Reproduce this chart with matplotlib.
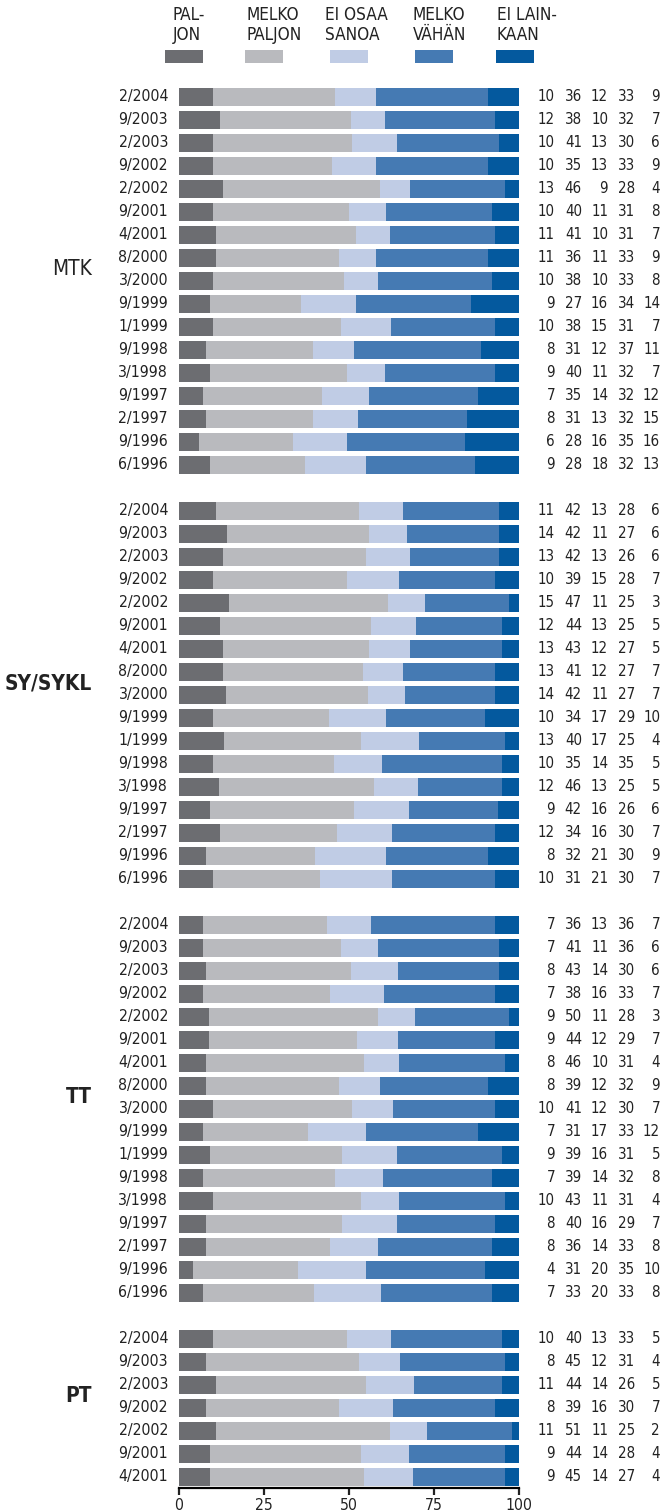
import numpy as np
import matplotlib
matplotlib.use("Agg")
import matplotlib.pyplot as plt
from matplotlib.patches import Rectangle
from matplotlib import font_manager

# pick a narrow face if one is installed
fonts = font_manager.fontManager.ttflist
names = {f.name for f in fonts}
stretch = 'normal'
if 'Liberation Sans Narrow' in names:
    family = 'Liberation Sans Narrow'
    scale = 1.0
elif any(f.name == 'DejaVu Sans' and f.stretch in ('condensed', 'semi-condensed') for f in fonts):
    family = 'DejaVu Sans'
    stretch = 'condensed'
    scale = 1.03
else:
    family = 'Liberation Sans'
    scale = 0.92
plt.rcParams['font.family'] = [family, 'DejaVu Sans']
plt.rcParams['font.stretch'] = stretch

# answer categories (legend) and their colours
categories = ["PAL-\nJON", "MELKO\nPALJON", "EI OSAA\nSANOA", "MELKO\nVÄHÄN", "EI LAIN-\nKAAN"]
colors = ["#6c6d71", "#b9babe", "#c0cce5", "#457ab3", "#04599e"]

periods = ["2/2004", "9/2003", "2/2003", "9/2002", "2/2002", "9/2001", "4/2001",
           "8/2000", "3/2000", "9/1999", "1/1999", "9/1998", "3/1998", "9/1997",
           "2/1997", "9/1996", "6/1996"]
periods_pt = ["2/2004", "9/2003", "2/2003", "9/2002", "2/2002", "9/2001", "4/2001"]

groups = ["MTK", "SY/SYKL", "TT", "PT"]

vals_mtk = [[10, 36, 12, 33, 9], [12, 38, 10, 32, 7], [10, 41, 13, 30, 6],
            [10, 35, 13, 33, 9], [13, 46, 9, 28, 4], [10, 40, 11, 31, 8],
            [11, 41, 10, 31, 7], [11, 36, 11, 33, 9], [10, 38, 10, 33, 8],
            [9, 27, 16, 34, 14], [10, 38, 15, 31, 7], [8, 31, 12, 37, 11],
            [9, 40, 11, 32, 7], [7, 35, 14, 32, 12], [8, 31, 13, 32, 15],
            [6, 28, 16, 35, 16], [9, 28, 18, 32, 13]]

vals_sy = [[11, 42, 13, 28, 6], [14, 42, 11, 27, 6], [13, 42, 13, 26, 6],
           [10, 39, 15, 28, 7], [15, 47, 11, 25, 3], [12, 44, 13, 25, 5],
           [13, 43, 12, 27, 5], [13, 41, 12, 27, 7], [14, 42, 11, 27, 7],
           [10, 34, 17, 29, 10], [13, 40, 17, 25, 4], [10, 35, 14, 35, 5],
           [12, 46, 13, 25, 5], [9, 42, 16, 26, 6], [12, 34, 16, 30, 7],
           [8, 32, 21, 30, 9], [10, 31, 21, 30, 7]]

vals_tt = [[7, 36, 13, 36, 7], [7, 41, 11, 36, 6], [8, 43, 14, 30, 6],
           [7, 38, 16, 33, 7], [9, 50, 11, 28, 3], [9, 44, 12, 29, 7],
           [8, 46, 10, 31, 4], [8, 39, 12, 32, 9], [10, 41, 12, 30, 7],
           [7, 31, 17, 33, 12], [9, 39, 16, 31, 5], [7, 39, 14, 32, 8],
           [10, 43, 11, 31, 4], [8, 40, 16, 29, 7], [8, 36, 14, 33, 8],
           [4, 31, 20, 35, 10], [7, 33, 20, 33, 8]]

vals_pt = [[10, 40, 13, 33, 5], [8, 45, 12, 31, 4], [11, 44, 14, 26, 5],
           [8, 39, 16, 30, 7], [11, 51, 11, 25, 2], [9, 44, 14, 28, 4],
           [9, 45, 14, 27, 4]]

group_data = [(periods, vals_mtk), (periods, vals_sy), (periods, vals_tt), (periods_pt, vals_pt)]

fig = plt.figure(figsize=(6.63, 15.12), dpi=100)
W, H = 663, 1512
ax = fig.add_axes([179 / W, 24 / H, 340 / W, 1402.5 / H])

num_cols = [110.6, 118.5, 126.2, 134.1, 141.5]
ink = '#222222'

slot = 0
for gi, (labels, vals) in enumerate(group_data):
    vals = np.array(vals, dtype=float)
    n = len(labels)
    ys = np.arange(slot, slot + n)
    shares = vals / vals.sum(axis=1, keepdims=True) * 100
    left = np.zeros(n)
    for k in range(5):
        ax.barh(ys, shares[:, k], left=left, height=0.77, color=colors[k], linewidth=0)
        left += shares[:, k]
    for y, lab, row in zip(ys, labels, vals):
        ax.text(-3.2, y, lab, ha='right', va='center', fontsize=11 * scale, color=ink, clip_on=False)
        for x, v in zip(num_cols, row):
            ax.text(x, y, "%d" % v, ha='right', va='center', fontsize=10.5 * scale, color=ink, clip_on=False)
    ax.text(-25.6, slot + (n - 1) / 2 - 0.5, groups[gi], ha='right', va='center',
            fontsize=14.5 * scale, fontweight='normal' if gi == 0 else 'bold', color=ink, clip_on=False)
    slot += n + 1

ax.set_xlim(0, 100)
ax.set_ylim(60.48, -0.5)
ax.set_xticks([0, 25, 50, 75, 100])
ax.set_yticks([])
for s in ['top', 'right', 'left']:
    ax.spines[s].set_visible(False)
ax.spines['bottom'].set_linewidth(1.6)
ax.tick_params(axis='x', direction='out', length=5, width=1.6, labelsize=11 * scale, pad=2, colors=ink)
ax.patch.set_visible(False)

# legend across the top
leg_x = [165, 245, 330, 415, 496]
text_x = [173, 246, 325, 413, 497]
for k in range(5):
    fig.patches.append(Rectangle((leg_x[k] / W, 1 - 63 / H), 38 / W, 13 / H,
                                 transform=fig.transFigure, color=colors[k], linewidth=0))
    fig.text(text_x[k] / W, 1 - 6 / H, categories[k], ha='left', va='top', fontsize=12 * scale,
             color=ink, linespacing=1.15)

fig.savefig("out.png", dpi=100)
